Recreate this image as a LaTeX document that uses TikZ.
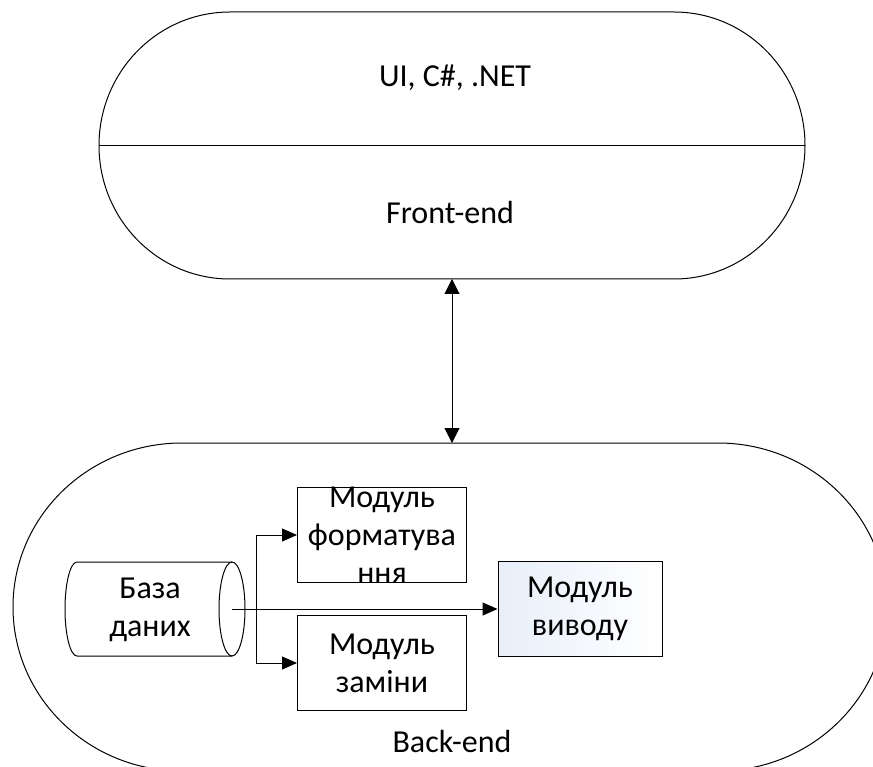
\documentclass[tikz,border=0pt]{standalone}
\usepackage{fontspec}
\setmainfont{Carlito}
\usetikzlibrary{arrows.meta}
\usetikzlibrary{positioning}
\definecolor{outfill}{RGB}{232,239,249}

\begin{document}
\begin{tikzpicture}[x=1pt, y=-1pt, line width=1pt,
        font=\fontsize{32}{38}\selectfont,
        box/.style={draw, minimum width=169pt, minimum height=95pt, inner sep=0pt},
        arr/.style={-{Triangle[length=15pt, width=13pt]}},
        darr/.style={{Triangle[length=15pt, width=15pt]}-{Triangle[length=15pt, width=15pt]}}]
    \useasboundingbox (0,0) rectangle (873,767);
    \clip (0,0) rectangle (873,767);

    % Front-end block
    \def\rx{131} % half width of the round ends
    \def\ry{133.5} % half height
    \draw (230,12) -- (674,12) arc[start angle=-90, end angle=90, x radius=\rx, y radius=\ry]
        -- (230,279) arc[start angle=90, end angle=270, x radius=\rx, y radius=\ry] -- cycle;
    \draw (99,145.5) -- (805,145.5); % divider
    \node (tech) at (455,78) {UI, C\#, .NET};
    \node (front) at (450,213) {Front-end};

    % Back-end block
    \def\rx{169}
    \def\ry{164}
    \draw (182,443) -- (718,443) arc[start angle=-90, end angle=90, x radius=\rx, y radius=\ry]
        -- (182,771) arc[start angle=90, end angle=270, x radius=\rx, y radius=\ry] -- cycle;
    \node (back) at (452,742) {Back-end};

    % link between the two blocks
    \coordinate (frontbot) at (452,279);
    \coordinate (backtop) at (452,443);
    \draw[darr] (frontbot) -- (backtop);

    % Database (cylinder)
    \draw (232,562) -- (77,562) arc[start angle=-90, end angle=-270, x radius=12, y radius=47]
        -- (232,656);
    \draw (232,609) ellipse[x radius=13, y radius=47];
    \node[align=center] (db) at (150,610) {База\\даних};
    \coordinate (dbend) at (232,609);

    % Modules
    \node[box] (fmt) at (382,535) {};
    \node[align=center] (fmttext) at (fmt.center) {Модуль\\форматува\\ння};
    \node[box, below=32pt of fmt, align=center] (sub) {Модуль\\заміни};
    \node[box, minimum width=164pt, shading=axis, shading angle=135,
        left color=outfill, right color=white, align=center]
        (out) at (580,609) {Модуль\\виводу};

    % Connections
    \draw[arr] (dbend) -- (out.west);
    \coordinate (split) at (256,609);
    \draw[arr] (split) |- (fmt.west);
    \draw[arr] (split) |- (sub.west);
\end{tikzpicture}
\end{document}
